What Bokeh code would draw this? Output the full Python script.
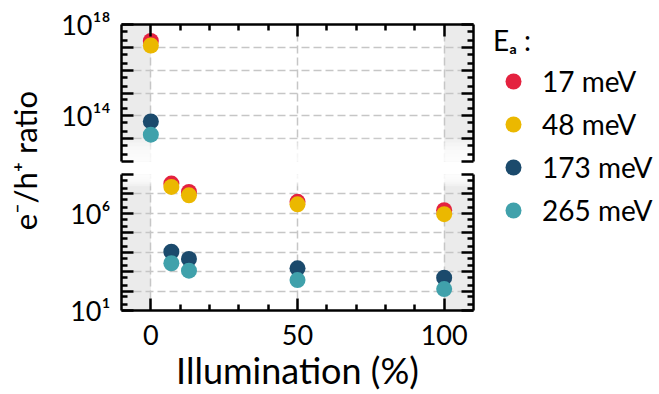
import math
from bokeh.plotting import figure
from bokeh.models import (LogAxis, FixedTicker, BoxAnnotation, Legend, LegendItem,
                          Range1d)
from bokeh.core.properties import value
from bokeh.layouts import row, column
from bokeh.embed import file_html
from bokeh.resources import INLINE

FONT = "Lato"

# ---- data ----
illum = [0, 7, 13, 50, 100]
ratio_17 = [1.9e17, 3.4e7, 1.26e7, 3.9e6, 1.45e6]
ratio_48 = [1.2e17, 2.3e7, 8.5e6, 2.9e6, 9.1e5]
ratio_173 = [5.7e13, 1.07e4, 4.5e3, 1.48e3, 490]
ratio_265 = [1.5e13, 2.7e3, 1.12e3, 370, 126]
series = [ratio_17, ratio_48, ratio_173, ratio_265]
series_labels = ["17 meV", "48 meV", "173 meV", "265 meV"]
colors = ["#e4223f", "#ebb800", "#1b4a6c", "#40a1ab"]
legend_title = "Eₐ :"

x_ticks = [0, 50, 100]
x_minor = [10, 20, 30, 40, 60, 70, 80, 90]
top_decades = [1e12, 1e13, 1e14, 1e15, 1e16, 1e17, 1e18]
top_labels = {1e14: "10¹⁴", 1e18: "10¹⁸"}
bot_decades = [1e1, 1e2, 1e3, 1e4, 1e5, 1e6, 1e7, 1e8]
bot_labels = {1e1: "10¹", 1e6: "10⁶"}
x_label = "Illumination (%)"
y_label = "e⁻/h⁺ ratio"

TICK_FS = "27px"
LABEL_FS = "36px"
YLABEL_FS = "31px"
LEGEND_FS = "28px"


def minors(decades):
    out = []
    for d in decades[:-1]:
        out += [2 * d, 5 * d]
    return out


def style_axis(ax, ticker, overrides, standoff=12):
    ax.ticker = ticker
    ax.major_label_overrides = overrides
    ax.axis_line_width = 2.5
    ax.axis_line_color = "black"
    ax.major_tick_in = 12
    ax.major_tick_out = 0
    ax.minor_tick_in = 6
    ax.minor_tick_out = 0
    ax.major_tick_line_width = 2.5
    ax.minor_tick_line_width = 2.5
    ax.major_tick_line_color = "black"
    ax.minor_tick_line_color = "black"
    ax.major_label_text_font = FONT
    ax.major_label_text_font_size = TICK_FS
    ax.major_label_text_color = "black"
    ax.major_label_standoff = standoff


def panel(height, y_lo, y_hi, decades, labels, x_loc, top_b, bot_b, fade_lo, fade_hi, fade_from_top):
    p = figure(width=432, height=height, x_range=Range1d(-10, 110),
               y_range=Range1d(y_lo, y_hi), y_axis_type="log",
               x_axis_location=x_loc, toolbar_location=None, output_backend="svg",
               min_border_left=73, min_border_right=7,
               min_border_top=top_b, min_border_bottom=bot_b)
    p.outline_line_color = None
    p.background_fill_color = "white"
    yt = FixedTicker(ticks=decades, minor_ticks=minors(decades))
    xt = FixedTicker(ticks=x_ticks, minor_ticks=x_minor)
    style_axis(p.yaxis[0], yt, {d: labels.get(d, "") for d in decades}, standoff=11)
    ra = LogAxis()
    style_axis(ra, FixedTicker(ticks=decades, minor_ticks=minors(decades)),
               {d: "" for d in decades}, standoff=0)
    p.add_layout(ra, "right")
    if x_loc == "above":
        style_axis(p.xaxis[0], xt, {t: "" for t in x_ticks}, standoff=0)
    else:
        style_axis(p.xaxis[0], xt, {}, standoff=14)
        p.xaxis.axis_label = x_label
        p.xaxis.axis_label_text_font = FONT
        p.xaxis.axis_label_text_font_size = LABEL_FS
        p.xaxis.axis_label_text_font_style = "normal"
        p.xaxis.axis_label_text_color = "black"
        p.xaxis.axis_label_standoff = 0
    p.xgrid.ticker = FixedTicker(ticks=x_ticks)
    p.ygrid.ticker = FixedTicker(ticks=decades)
    for g in (p.xgrid, p.ygrid):
        g.grid_line_color = "#c6c6c6"
        g.grid_line_width = 1.5
        g.grid_line_dash = "8 4"
        g.minor_grid_line_color = None
    # grey shaded out-of-range zones
    p.add_layout(BoxAnnotation(right=0, fill_color="#ebebeb", fill_alpha=1,
                               line_color=None, level="image"))
    p.add_layout(BoxAnnotation(left=100, fill_color="#ebebeb", fill_alpha=1,
                               line_color=None, level="image"))
    # fade towards the axis break
    n = 6
    for i in range(n):
        f = (i + 1) / n
        if fade_from_top:
            edge = 10 ** (fade_hi - (fade_hi - fade_lo) * f)
            box = BoxAnnotation(bottom=edge, fill_color="white", fill_alpha=0.3,
                                line_color=None, level="underlay")
        else:
            edge = 10 ** (fade_lo + (fade_hi - fade_lo) * f)
            box = BoxAnnotation(top=edge, fill_color="white", fill_alpha=0.3,
                                line_color=None, level="underlay")
        p.add_layout(box)
    for vals, c in zip(series, colors):
        p.scatter(illum, vals, size=16, fill_color=c, line_color=None)
    return p


top = panel(167, 1e12, 1e18, top_decades, top_labels, "above", 24, 6, 12.0, 13.0, False)
bot = panel(227, 1e1, 1e8, bot_decades, bot_labels, "below", 7, 84, 7.4, 8.0, True)

# y axis label column
lab = figure(width=48, height=394, x_range=Range1d(0, 48), y_range=Range1d(0, 394),
             toolbar_location=None, output_backend="svg", min_border=0,
             x_axis_location=None, y_axis_location=None)
lab.outline_line_color = None
lab.grid.visible = False
lab.text(x=[24], y=[240], text=[y_label], angle=math.pi / 2, text_align="center",
         text_baseline="middle", text_font_size=YLABEL_FS, text_font=value(FONT),
         text_color="black")

# legend column
leg = figure(width=179, height=394, x_range=Range1d(0, 1), y_range=Range1d(0, 1),
             toolbar_location=None, output_backend="svg", min_border=0,
             min_border_top=10, x_axis_location=None, y_axis_location=None)
leg.outline_line_color = None
leg.grid.visible = False
items = []
for vals, c, lbl in zip(series, colors, series_labels):
    # same points, outside this panel's window: only the legend swatch shows
    r = leg.scatter(x=illum, y=vals, size=16, fill_color=c, line_color=None)
    items.append(LegendItem(label=lbl, renderers=[r]))
legend = Legend(items=items, title=legend_title, location="top_left",
                label_text_font=FONT, label_text_font_size=LEGEND_FS,
                label_text_color="black",
                title_text_font=FONT, title_text_font_size=LEGEND_FS,
                title_text_color="black",
                title_text_font_style="normal", title_standoff=4,
                glyph_width=40, glyph_height=40, label_standoff=9, spacing=3,
                padding=0, margin=13, border_line_color=None,
                background_fill_alpha=0)
leg.add_layout(legend)

layout = row(lab, column(top, bot), leg)
open("out.html", "w").write(file_html(layout, INLINE))
